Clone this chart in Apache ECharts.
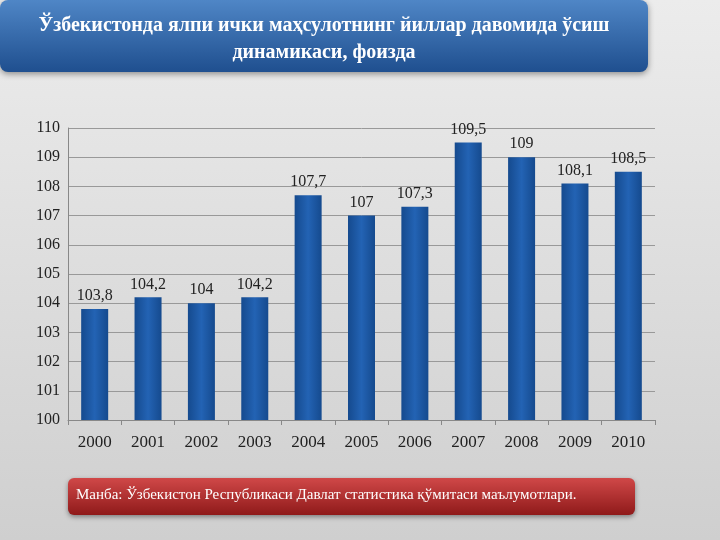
<!DOCTYPE html>
<html><head><meta charset="utf-8">
<script src="https://cdn.jsdelivr.net/npm/echarts@6/dist/echarts.min.js"></script>
<style>html,body{margin:0;padding:0;}#c{width:720px;height:540px;}</style>
</head><body><div id="c"></div>
<script>
const years = ['2000','2001','2002','2003','2004','2005','2006','2007','2008','2009','2010'];
const growth = [103.8, 104.2, 104, 104.2, 107.7, 107, 107.3, 109.5, 109, 108.1, 108.5];
const titleText = 'Ўзбекистонда ялпи ички маҳсулотнинг йиллар давомида ўсиш\nдинамикаси, фоизда';
const sourceText = 'Манба: Ўзбекистон Республикаси Давлат статистика қўмитаси маълумотлари.';

const chart = echarts.init(document.getElementById('c'));
chart.setOption({
    backgroundColor: new echarts.graphic.LinearGradient(0, 0, 0, 1, [
        {offset: 0, color: '#ececec'}, {offset: 1, color: '#cfcfcf'}
    ]),
    graphic: [
        {type: 'rect', x: 0, y: 0, shape: {width: 648, height: 72, r: 8},
         style: {fill: new echarts.graphic.LinearGradient(0, 0, 0, 1, [
             {offset: 0, color: '#4f86c6'}, {offset: 1, color: '#1f4f8f'}]),
             shadowBlur: 6, shadowColor: 'rgba(0,0,0,0.4)', shadowOffsetY: 2}},
        {type: 'text', x: 324, y: 12, style: {text: titleText, fill: '#fff',
         font: 'bold 20px "Liberation Serif"', textAlign: 'center', lineHeight: 27}},
        {type: 'rect', x: 68, y: 478, shape: {width: 567, height: 37, r: 6},
         style: {fill: new echarts.graphic.LinearGradient(0, 0, 0, 1, [
             {offset: 0, color: '#d04848'}, {offset: 1, color: '#8f1a1a'}]),
             shadowBlur: 5, shadowColor: 'rgba(0,0,0,0.4)', shadowOffsetY: 2}},
        {type: 'text', x: 76, y: 488, style: {text: sourceText, fill: '#fff',
         font: '15px "Liberation Serif"'}}
    ],
    grid: {left: 68, right: 65, top: 128, bottom: 120},
    xAxis: {
        type: 'category', data: years,
        axisLine: {lineStyle: {color: '#888'}},
        axisTick: {show: true, lineStyle: {color: '#888'}},
        axisLabel: {color: '#222', fontSize: 17, fontFamily: 'Liberation Serif', margin: 14}
    },
    yAxis: {
        type: 'value', min: 100, max: 110, interval: 1,
        axisLine: {show: true, lineStyle: {color: '#888'}},
        axisLabel: {color: '#222', fontSize: 16, fontFamily: 'Liberation Serif'},
        splitLine: {lineStyle: {color: '#999'}}
    },
    series: [{
        type: 'bar', data: growth, barWidth: 27,
        itemStyle: {color: new echarts.graphic.LinearGradient(0, 0, 1, 0, [
            {offset: 0, color: '#154a8e'}, {offset: 0.5, color: '#2363b4'}, {offset: 1, color: '#154a8e'}])},
        label: {show: true, position: 'top', color: '#222', fontSize: 16,
            fontFamily: 'Liberation Serif', formatter: p => String(p.value).replace('.', ',')}
    }]
});
</script></body></html>
